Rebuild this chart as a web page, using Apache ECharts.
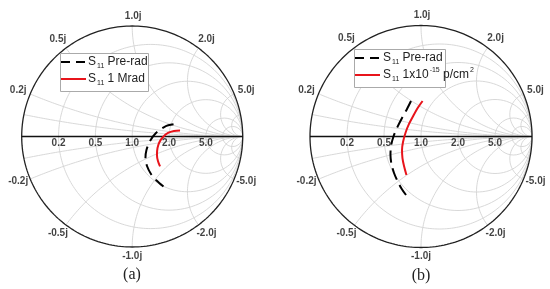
<!DOCTYPE html>
<html><head><meta charset="utf-8">
<script src="https://cdn.jsdelivr.net/npm/echarts@6/dist/echarts.min.js"></script>
<style>html,body{margin:0;padding:0;background:#fff}#c{width:550px;height:289px}</style>
</head><body><div id="c"></div>
<script>
// ---- tick values (Smith chart) ----
const resistanceTicks = [0.2, 0.5, 1.0, 2.0, 5.0];
const reactanceTicks = [0.2, 0.5, 1.0, 2.0, 5.0, -0.2, -0.5, -1.0, -2.0, -5.0];
const gridResistance = [0.2, 0.5, 1.0, 2.0, 5.0, 10];
const gridReactance = [0.1, 0.2, 0.5, 1.0, 2.0, 5.0, 10, -0.1, -0.2, -0.5, -1.0, -2.0, -5.0, -10];

// ---- data: reflection coefficient (real, imaginary) ----
// Panel (a)
const aPreRe  = [0.374, 0.297, 0.215, 0.161, 0.129, 0.120, 0.134, 0.170, 0.220, 0.283];
const aPreIm  = [0.110, 0.090, 0.032, -0.041, -0.122, -0.195, -0.267, -0.339, -0.398, -0.452];
const aPostRe = [0.433, 0.378, 0.324, 0.279, 0.247, 0.229, 0.224, 0.233, 0.252];
const aPostIm = [0.054, 0.050, 0.032, -0.005, -0.050, -0.104, -0.167, -0.222, -0.271];
// Panel (b)
const bPreRe  = [-0.090, -0.126, -0.171, -0.212, -0.248, -0.270, -0.275, -0.266, -0.243, -0.212, -0.176, -0.135];
const bPreIm  = [0.320, 0.248, 0.167, 0.086, 0.000, -0.086, -0.167, -0.248, -0.329, -0.401, -0.468, -0.527];
const bPostRe = [0.014, -0.027, -0.068, -0.108, -0.140, -0.162, -0.171, -0.167, -0.153, -0.131];
const bPostIm = [0.320, 0.261, 0.189, 0.113, 0.032, -0.050, -0.122, -0.194, -0.266, -0.347];

// ---- helpers ----
function zip(re, im){ return re.map((v,i)=>[v, im[i]]); }
function resistanceCircle(r){
  const c = r/(1+r), rad = 1/(1+r), pts=[];
  for(let i=0;i<=240;i++){ const t=2*Math.PI*i/240; pts.push([c+rad*Math.cos(t), rad*Math.sin(t)]); }
  return pts;
}
function reactanceArc(x){
  const pts=[];
  const N=800;
  for(let i=0;i<=N;i++){
    const s=i/N;
    if(s>=1){ pts.push([1,0]); break; }
    const r=s/(1-s);
    const d=(r+1)*(r+1)+x*x;
    pts.push([(r*r-1+x*x)/d, 2*x/d]);
  }
  return pts;
}
function gammaOfR(r){ return (r-1)/(r+1); }
function gammaOfX(x){ const d=1+x*x; return [(x*x-1)/d, 2*x/d]; }

const labelOffsets = {
  '1':[1,-10], '2':[8,-9], '0.5':[-8,-9], '5':[12,-4], '0.2':[-12,-4],
  '-1':[0,9], '-2':[8,8], '-0.5':[-8,8], '-5':[12,2], '-0.2':[-12,2]
};
const labelFont = {fontFamily:'Liberation Sans, Arial', fontWeight:'bold', fontSize:10, color:'#111'};

function panelSeries(gi, pre, post){
  const s=[];
  const gridStyle={color:'#d4d4d4', width:0.9};
  gridResistance.forEach(r=>s.push({type:'line', xAxisIndex:gi, yAxisIndex:gi, data:resistanceCircle(r), showSymbol:false, symbol:'none', silent:true, lineStyle:gridStyle, clip:false, z:1}));
  gridReactance.forEach(x=>s.push({type:'line', xAxisIndex:gi, yAxisIndex:gi, data:reactanceArc(x), showSymbol:false, symbol:'none', silent:true, lineStyle:gridStyle, clip:false, z:1}));
  s.push({type:'line', xAxisIndex:gi, yAxisIndex:gi, data:resistanceCircle(0), symbol:'none', silent:true, lineStyle:{color:'#222', width:1.3}, clip:false, z:3});
  s.push({type:'line', xAxisIndex:gi, yAxisIndex:gi, data:[[-1,0],[1,0]], symbol:'none', silent:true, lineStyle:{color:'#111', width:1.3}, clip:false, z:3});
  s.push({type:'scatter', xAxisIndex:gi, yAxisIndex:gi, symbolSize:0.1, itemStyle:{color:'rgba(0,0,0,0)'}, silent:true, clip:false, z:4,
    data: resistanceTicks.map(r=>({value:[gammaOfR(r),0], name:r.toFixed(1)})),
    label:{show:true, position:'inside', offset:[0,7], formatter:p=>p.name, ...labelFont}});
  s.push({type:'scatter', xAxisIndex:gi, yAxisIndex:gi, symbolSize:0.1, itemStyle:{color:'rgba(0,0,0,0)'}, silent:true, clip:false, z:4,
    data: reactanceTicks.map(x=>({value:gammaOfX(x), name:x.toFixed(1)+'j', label:{offset:labelOffsets[String(x)]}})),
    label:{show:true, position:'inside', formatter:p=>p.name, ...labelFont}});
  s.push({type:'line', name:'pre'+gi, xAxisIndex:gi, yAxisIndex:gi, data:pre, symbol:'none', smooth:0.3, clip:false, z:6,
    lineStyle:{color:'#000', width:2, type:[12,6]}});
  s.push({type:'line', name:'post'+gi, xAxisIndex:gi, yAxisIndex:gi, data:post, symbol:'none', smooth:0.3, clip:false, z:5,
    lineStyle:{color:'#e8141b', width:2}});
  return s;
}

function legendGroup(x, y, w, h, row1y, row2y, iconX, textX, text2){
  const ff='Liberation Sans, Arial';
  const txtStyle = {fontFamily:ff, fontSize:12, fill:'#222',
    rich:{ n:{fontSize:12, fontFamily:ff, fill:'#222', lineHeight:16},
           sub:{fontSize:7, fontFamily:ff, fill:'#222', verticalAlign:'bottom', lineHeight:8, padding:[0,0,0,1]},
           sup:{fontSize:7, fontFamily:ff, fill:'#222', verticalAlign:'top', lineHeight:8, padding:[0,0,0,1]} }};
  return [
    {type:'rect', shape:{x:x, y:y, width:w, height:h}, style:{fill:'#fff', stroke:'#aaa', lineWidth:1}, z:10},
    {type:'line', shape:{x1:iconX, y1:row1y, x2:iconX+25, y2:row1y}, style:{stroke:'#000', lineWidth:2, lineDash:[9,6]}, z:11},
    {type:'line', shape:{x1:iconX, y1:row2y, x2:iconX+25, y2:row2y}, style:{stroke:'#e8141b', lineWidth:2}, z:11},
    {type:'text', x:textX, y:row1y, style:{...txtStyle, text:'{n|S}{sub|11}{n| Pre-rad}', verticalAlign:'middle'}, z:11},
    {type:'text', x:textX, y:row2y, style:{...txtStyle, text:text2, verticalAlign:'middle'}, z:11}
  ];
}

const chart = echarts.init(document.getElementById('c'), null, {renderer:'canvas'});
const axisCommon = {min:-1, max:1, show:false};
chart.setOption({
  animation:false,
  backgroundColor:'#fff',
  grid:[
    {left:21.7, top:26, width:221, height:221},
    {left:310, top:25.5, width:222, height:222}
  ],
  xAxis:[{...axisCommon, gridIndex:0, type:'value'},{...axisCommon, gridIndex:1, type:'value'}],
  yAxis:[{...axisCommon, gridIndex:0, type:'value'},{...axisCommon, gridIndex:1, type:'value'}],
  series:[...panelSeries(0, zip(aPreRe,aPreIm), zip(aPostRe,aPostIm)), ...panelSeries(1, zip(bPreRe,bPreIm), zip(bPostRe,bPostIm))],
  graphic:[
    ...legendGroup(60.5, 53.5, 88, 38, 62, 79, 61, 88, '{n|S}{sub|11}{n| 1 Mrad}'),
    ...legendGroup(354.5, 49.5, 91, 38, 58, 75, 355, 383, '{n|S}{sub|11}{n| 1x10}{sup|-15}{n| p/cm}{sup|2}'),
    {type:'text', x:132, y:275, style:{text:'(a)', fontFamily:'Liberation Serif, Times New Roman', fontSize:16, fill:'#222', align:'center', verticalAlign:'middle'}},
    {type:'text', x:421, y:276, style:{text:'(b)', fontFamily:'Liberation Serif, Times New Roman', fontSize:16, fill:'#222', align:'center', verticalAlign:'middle'}}
  ]
});
</script>
</body></html>
